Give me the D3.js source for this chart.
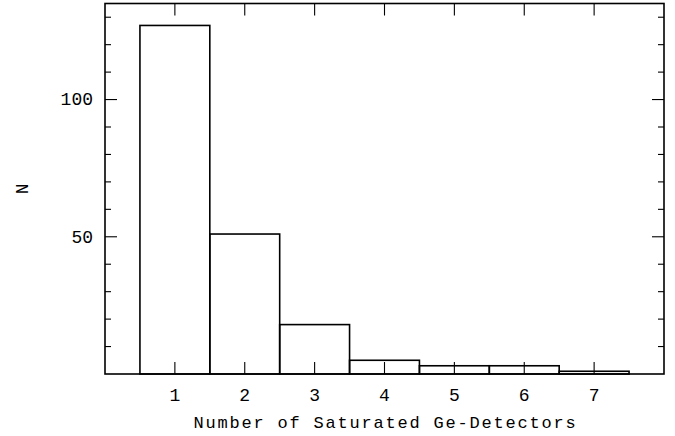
<!DOCTYPE html>
<html>
<head>
<meta charset="utf-8">
<script src="https://d3js.org/d3.v7.min.js"></script>
<style>
  body { margin: 0; background: #fff; }
  text { font-family: "Liberation Mono", "DejaVu Sans Mono", monospace; fill: #000; }
  .frame { fill: none; stroke: #000; stroke-width: 1.6px; }
  .bar { fill: none; stroke: #000; stroke-width: 1.6px; }
  .tick { stroke: #000; stroke-width: 1.1px; }
</style>
</head>
<body>
<svg width="675" height="436"></svg>
<script>
// data
var detectors = [1, 2, 3, 4, 5, 6, 7];
var counts = [127, 51, 18, 5, 3, 3, 1];
var xTicks = [1, 2, 3, 4, 5, 6, 7];
var yMajor = [50, 100];
var yMinor = [10, 20, 30, 40, 60, 70, 80, 90, 110, 120, 130];

var svg = d3.select("svg"),
    margin = {top: 3.5, right: 11, bottom: 62, left: 105},
    width = 675 - margin.left - margin.right,
    height = 436 - margin.top - margin.bottom,
    g = svg.append("g").attr("transform", "translate(" + margin.left + "," + margin.top + ")");

var x = d3.scaleLinear().domain([0, 8]).range([0, width]),
    y = d3.scaleLinear().domain([0, 135]).range([height, 0]);

// histogram outline
g.selectAll(".bar")
  .data(detectors)
  .enter().append("rect")
  .attr("class", "bar")
  .attr("x", function(d) { return x(d - 0.5); })
  .attr("width", function(d) { return x(d + 0.5) - x(d - 0.5); })
  .attr("y", function(d, i) { return y(counts[i]); })
  .attr("height", function(d, i) { return y(0) - y(counts[i]); });

// x ticks, bottom and top
xTicks.forEach(function(t) {
  g.append("line").attr("class", "tick")
    .attr("x1", x(t)).attr("x2", x(t)).attr("y1", height).attr("y2", height - 12);
  g.append("line").attr("class", "tick")
    .attr("x1", x(t)).attr("x2", x(t)).attr("y1", 0).attr("y2", 12);
  g.append("text")
    .attr("x", x(t)).attr("y", height + 27)
    .attr("text-anchor", "middle")
    .attr("font-size", "18px")
    .text(t);
});

// y ticks, left and right
yMajor.forEach(function(t) {
  g.append("line").attr("class", "tick")
    .attr("x1", 0).attr("x2", 12).attr("y1", y(t)).attr("y2", y(t));
  g.append("line").attr("class", "tick")
    .attr("x1", width).attr("x2", width - 12).attr("y1", y(t)).attr("y2", y(t));
  g.append("text")
    .attr("x", -12).attr("y", y(t))
    .attr("dy", "0.32em")
    .attr("text-anchor", "end")
    .attr("font-size", "18px")
    .text(t);
});
yMinor.forEach(function(t) {
  g.append("line").attr("class", "tick")
    .attr("x1", 0).attr("x2", 6).attr("y1", y(t)).attr("y2", y(t));
  g.append("line").attr("class", "tick")
    .attr("x1", width).attr("x2", width - 6).attr("y1", y(t)).attr("y2", y(t));
});

// frame
g.append("rect").attr("class", "frame")
  .attr("x", 0).attr("y", 0).attr("width", width).attr("height", height);

// axis labels
g.append("text")
  .attr("x", width / 2 + 1).attr("y", height + 54)
  .attr("text-anchor", "middle")
  .attr("font-size", "17px")
  .attr("letter-spacing", "1.8px")
  .text("Number of Saturated Ge-Detectors");

g.append("text")
  .attr("transform", "translate(" + (-77) + "," + y(67.5) + ")rotate(-90)")
  .attr("text-anchor", "middle")
  .attr("font-size", "18px")
  .text("N");
</script>
</body>
</html>
